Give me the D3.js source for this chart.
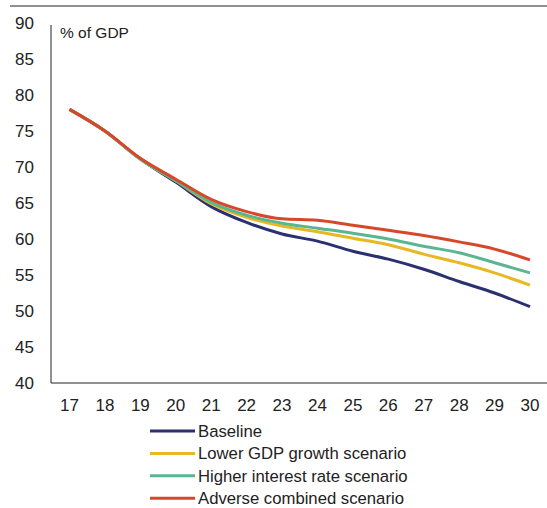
<!DOCTYPE html>
<html><head><meta charset="utf-8">
<script src="https://cdn.jsdelivr.net/npm/d3@7"></script>
<style>body{margin:0;background:#fff}svg{display:block;font-family:"Liberation Sans",Arial,sans-serif}</style>
</head><body>
<script>
const years = ["17","18","19","20","21","22","23","24","25","26","27","28","29","30"];
const baseline = [78.0,75.0,71.1,67.9,64.5,62.3,60.7,59.7,58.3,57.2,55.8,54.1,52.5,50.6];
const lowerGDP = [78.0,75.0,71.1,68.1,64.9,63.0,61.8,61.0,60.1,59.2,57.9,56.7,55.3,53.6];
const higherRate = [78.0,75.0,71.1,68.1,65.1,63.3,62.2,61.5,60.8,60.0,59.0,58.1,56.7,55.3];
const adverse = [78.0,75.0,71.2,68.3,65.5,63.8,62.8,62.6,61.9,61.2,60.5,59.6,58.6,57.1];
const seriesNames = ["Baseline","Lower GDP growth scenario","Higher interest rate scenario","Adverse combined scenario"];
const seriesColors = ["#2B3170","#E8B822","#5AB592","#D7472A"];
const yTicks = [40,45,50,55,60,65,70,75,80,85,90];
const unitLabel = "% of GDP";

const W=547,H=508;
const svg=d3.select("body").append("svg").attr("width",W).attr("height",H);
// top rule (cut-off header)
svg.append("line").attr("x1",10).attr("x2",W).attr("y1",6).attr("y2",6).attr("stroke","#222").attr("stroke-width",1.2);

const x=d3.scalePoint().domain(years).range([69.5,530]);
const y=d3.scaleLinear().domain([40,90]).range([383,23]);

svg.append("line").attr("x1",51).attr("x2",51).attr("y1",25).attr("y2",383).attr("stroke","#222").attr("stroke-width",1);
svg.append("line").attr("x1",51).attr("x2",W).attr("y1",383).attr("y2",383).attr("stroke","#222").attr("stroke-width",1);

svg.append("g").selectAll("text").data(yTicks).join("text")
 .attr("x",34).attr("y",d=>y(d)).attr("dy","0.35em").attr("text-anchor","end")
 .attr("font-size",17).attr("fill","#222").text(d=>d);
svg.append("g").selectAll("text").data(years).join("text")
 .attr("x",d=>x(d)).attr("y",411).attr("text-anchor","middle")
 .attr("font-size",17).attr("fill","#222").text(d=>d);
svg.append("text").attr("x",60).attr("y",38).attr("font-size",15.5).attr("fill","#222").text(unitLabel);

const all=[baseline,lowerGDP,higherRate,adverse];
const line=d3.line().x((d,i)=>x(years[i])).y(d=>y(d)).curve(d3.curveMonotoneX);
svg.append("g").selectAll("path").data(all).join("path")
 .attr("d",line).attr("fill","none").attr("stroke",(d,i)=>seriesColors[i])
 .attr("stroke-width",3).attr("stroke-linejoin","round");

const lg=svg.append("g").selectAll("g").data(seriesNames).join("g")
 .attr("transform",(d,i)=>`translate(0,${431+i*22.4})`);
lg.append("line").attr("x1",150).attr("x2",195).attr("stroke",(d,i)=>seriesColors[i]).attr("stroke-width",3);
lg.append("text").attr("x",198).attr("dy","0.36em").attr("font-size",16.7).attr("fill","#222").text(d=>d);
</script>
</body></html>
